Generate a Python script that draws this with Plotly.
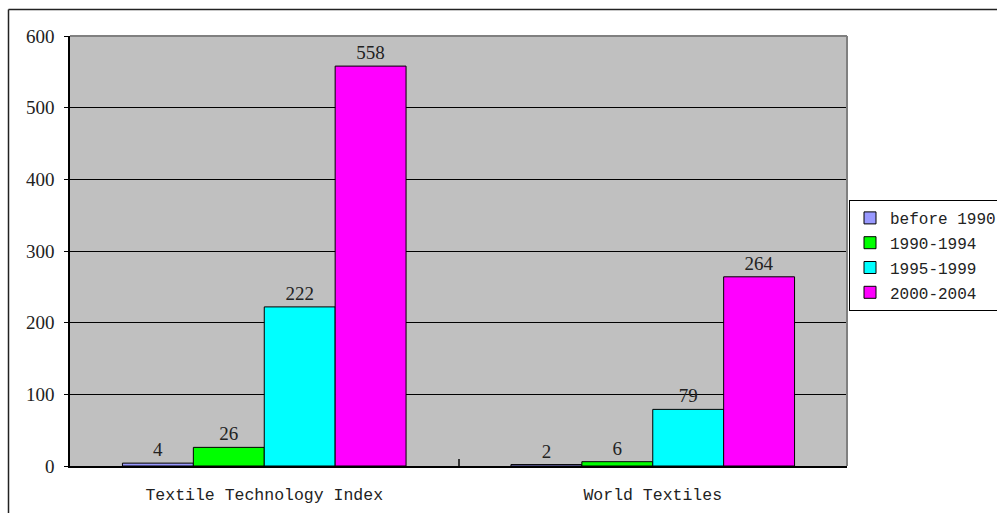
import plotly.graph_objects as go

# Journals and publication periods
journals = ["Textile Technology Index", "World Textiles"]
periods = ["before 1990", "1990-1994", "1995-1999", "2000-2004"]
counts = {
    "before 1990": [4, 2],
    "1990-1994": [26, 6],
    "1995-1999": [222, 79],
    "2000-2004": [558, 264],
}
colors = ["#9999FF", "#00FF00", "#00FFFF", "#FF00FF"]
y_ticks = [0, 100, 200, 300, 400, 500, 600]

W, H = 997, 513
L, R, T, B = 70, 150, 36, 47
pw, ph = W - L - R, H - T - B

serif = "Liberation Serif, Times New Roman, serif"
mono = "Liberation Mono, Courier New, monospace"

fig = go.Figure()
for i, (p, c) in enumerate(zip(periods, colors)):
    fig.add_trace(go.Bar(
        name=p, x=journals, y=counts[p],
        marker=dict(color=c, line=dict(color="black", width=1)),
        text=[str(v) for v in counts[p]], textposition="outside",
        textfont=dict(family=serif, size=19, color="#222222"),
        cliponaxis=False, legendgroup=p,
    ))


def px_x(px):
    return (px - L) / pw


def px_y(py):
    return (H - B - py) / ph


shapes = [
    # chart outer frame (left and top edges)
    dict(type="line", xref="paper", yref="paper", x0=px_x(8.5), x1=px_x(8.5),
         y0=px_y(9.5), y1=px_y(530), line=dict(color="#222222", width=1.5)),
    dict(type="line", xref="paper", yref="paper", x0=px_x(8.5), x1=px_x(1010),
         y0=px_y(9.5), y1=px_y(9.5), line=dict(color="#222222", width=1.5)),
    # plot area top and right edges
    dict(type="line", xref="paper", yref="paper", x0=0, x1=1, y0=1, y1=1,
         line=dict(color="#808080", width=2)),
    dict(type="line", xref="paper", yref="paper", x0=1, x1=1, y0=0, y1=1,
         line=dict(color="#808080", width=2)),
]

fig.update_layout(
    width=W, height=H,
    margin=dict(l=L, r=R, t=T, b=B, autoexpand=False),
    paper_bgcolor="white", plot_bgcolor="#C0C0C0",
    barmode="group", bargap=0.27, bargroupgap=0,
    showlegend=True,
    legend=dict(
        x=px_x(849), y=px_y(200), xanchor="left", yanchor="top",
        bgcolor="white", bordercolor="black", borderwidth=1,
        font=dict(family=mono, size=16, color="#222222"),
        tracegroupgap=1, itemwidth=30,
    ),
    shapes=shapes,
    xaxis=dict(
        type="category", showgrid=False, showline=True, linecolor="black",
        linewidth=1.5, ticks="inside", tickson="boundaries", ticklen=7,
        tickcolor="#333333", tickwidth=1.5, ticklabelstandoff=12,
        tickfont=dict(family=mono, size=16.5, color="#222222"),
        zeroline=False,
    ),
    yaxis=dict(
        range=[0, 600], tickvals=y_ticks, showgrid=True, gridcolor="black",
        gridwidth=1, showline=True, linecolor="black", linewidth=1.5,
        ticks="outside", ticklen=4, tickcolor="black", ticklabelstandoff=6,
        tickfont=dict(family=serif, size=19, color="#222222"),
        zeroline=False,
    ),
)

fig.write_html("out.html")
